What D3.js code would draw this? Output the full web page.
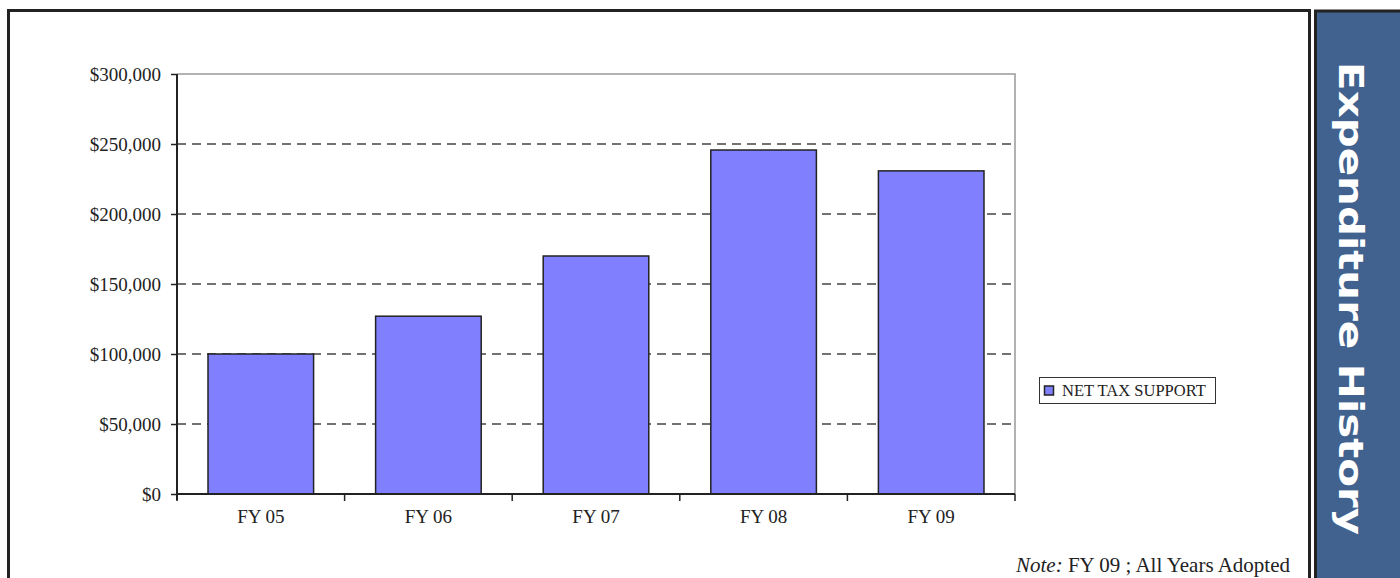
<!DOCTYPE html>
<html>
<head>
<meta charset="utf-8">
<script src="https://cdn.jsdelivr.net/npm/d3@7"></script>
<style>
  body { margin: 0; background: #fff; }
  svg { display: block; }
</style>
</head>
<body>
<script>
// chart data
var years = ["FY 05", "FY 06", "FY 07", "FY 08", "FY 09"];
var netTaxSupport = [100000, 127000, 170000, 245700, 230800];
var yTicks = [0, 50000, 100000, 150000, 200000, 250000, 300000];
var seriesName = "NET TAX SUPPORT";
var sideTitle = "Expenditure History";

var W = 1400, H = 578;
var svg = d3.select("body").append("svg")
  .attr("width", W)
  .attr("height", H);

// page frame
svg.append("rect")
  .attr("x", 8.5).attr("y", 10.5)
  .attr("width", 1301).attr("height", 600)
  .style("fill", "none")
  .style("stroke", "#222")
  .style("stroke-width", 3);

// side tab
svg.append("rect")
  .attr("x", 1315.5).attr("y", 11)
  .attr("width", 100).attr("height", 600)
  .style("fill", "#41628f")
  .style("stroke", "#222")
  .style("stroke-width", 3);

svg.append("text")
  .attr("transform", "translate(1339,62) rotate(90)")
  .attr("x", 0).attr("y", 0)
  .style("font-family", "'DejaVu Sans', Verdana, sans-serif")
  .style("font-weight", "bold")
  .style("font-size", "34px")
  .style("fill", "#fff")
  .attr("textLength", 473)
  .attr("lengthAdjust", "spacingAndGlyphs")
  .text(sideTitle);

// plot area
var plotL = 177, plotT = 74, plotR = 1015, plotB = 494;

var x = d3.scaleBand().domain(years).range([plotL, plotR]).padding(0);
var y = d3.scaleLinear().domain([0, 300000]).range([plotB, plotT]);

// plot border (top and right)
svg.append("path")
  .attr("d", "M" + plotL + "," + plotT + "H" + plotR + "V" + plotB)
  .style("fill", "none")
  .style("stroke", "#999")
  .style("stroke-width", 1.5);

// dashed gridlines
svg.selectAll(".grid")
  .data(yTicks.filter(function(d) { return d > 0 && d < 300000; }))
  .enter()
  .append("line")
  .attr("class", "grid")
  .attr("x1", plotL).attr("x2", plotR)
  .attr("y1", function(d) { return y(d); })
  .attr("y2", function(d) { return y(d); })
  .style("stroke", "#444")
  .style("stroke-width", 1.3)
  .style("stroke-dasharray", "9,6");

// bars
var barW = x.bandwidth() * 0.63;
svg.selectAll(".bar")
  .data(netTaxSupport)
  .enter()
  .append("rect")
  .attr("class", "bar")
  .attr("x", function(d, i) { return x(years[i]) + (x.bandwidth() - barW) / 2; })
  .attr("y", function(d) { return y(d); })
  .attr("width", barW)
  .attr("height", function(d) { return plotB - y(d); })
  .style("fill", "#8080ff")
  .style("stroke", "#222")
  .style("stroke-width", 1.5);

// y axis
var yAxis = svg.append("g")
  .attr("transform", "translate(" + plotL + ",0)")
  .call(d3.axisLeft(y).tickValues(yTicks).tickSize(6).tickPadding(10)
    .tickFormat(function(d) { return "$" + d3.format(",")(d); }));
yAxis.select(".domain").attr("d", "M0," + plotT + "V" + (plotB + 6))
  .style("stroke", "#222").style("stroke-width", 2);
yAxis.selectAll(".tick line").style("stroke", "#222").style("stroke-width", 1.5);
yAxis.selectAll("text")
  .style("font-family", "'Liberation Serif', 'Times New Roman', serif")
  .style("font-size", "19px")
  .style("fill", "#222");

// x axis
var xAxis = svg.append("g")
  .attr("transform", "translate(0," + plotB + ")")
  .call(d3.axisBottom(x).tickSize(0).tickPadding(16));
xAxis.select(".domain").attr("d", "M" + plotL + ",0H" + plotR)
  .style("stroke", "#222").style("stroke-width", 2);
xAxis.selectAll("text")
  .style("font-family", "'Liberation Serif', 'Times New Roman', serif")
  .style("font-size", "19px")
  .style("fill", "#222");
// category boundary ticks
xAxis.selectAll(".bound")
  .data(years.concat([null]))
  .enter()
  .append("line")
  .attr("class", "bound")
  .attr("x1", function(d, i) { return plotL + i * x.step(); })
  .attr("x2", function(d, i) { return plotL + i * x.step(); })
  .attr("y1", 0).attr("y2", 7)
  .style("stroke", "#222")
  .style("stroke-width", 1.5);

// legend
var lg = svg.append("g").attr("transform", "translate(1039,377)");
lg.append("rect")
  .attr("x", 0.5).attr("y", 0.5)
  .attr("width", 176).attr("height", 26)
  .style("fill", "#fff")
  .style("stroke", "#333")
  .style("stroke-width", 1);
lg.append("rect")
  .attr("x", 5.5).attr("y", 9)
  .attr("width", 9).attr("height", 9)
  .style("fill", "#8080ff")
  .style("stroke", "#222")
  .style("stroke-width", 1.5);
lg.append("text")
  .attr("x", 23).attr("y", 19)
  .style("font-family", "'Liberation Serif', 'Times New Roman', serif")
  .style("font-size", "16.5px")
  .style("fill", "#222")
  .text(seriesName);

// note
var note = svg.append("text")
  .attr("x", 1290).attr("y", 572)
  .attr("text-anchor", "end")
  .style("font-family", "'Liberation Serif', 'Times New Roman', serif")
  .style("font-size", "21px")
  .style("fill", "#222");
note.append("tspan").style("font-style", "italic").text("Note:");
note.append("tspan").text(" FY 09 ; All Years Adopted");
</script>
</body>
</html>
